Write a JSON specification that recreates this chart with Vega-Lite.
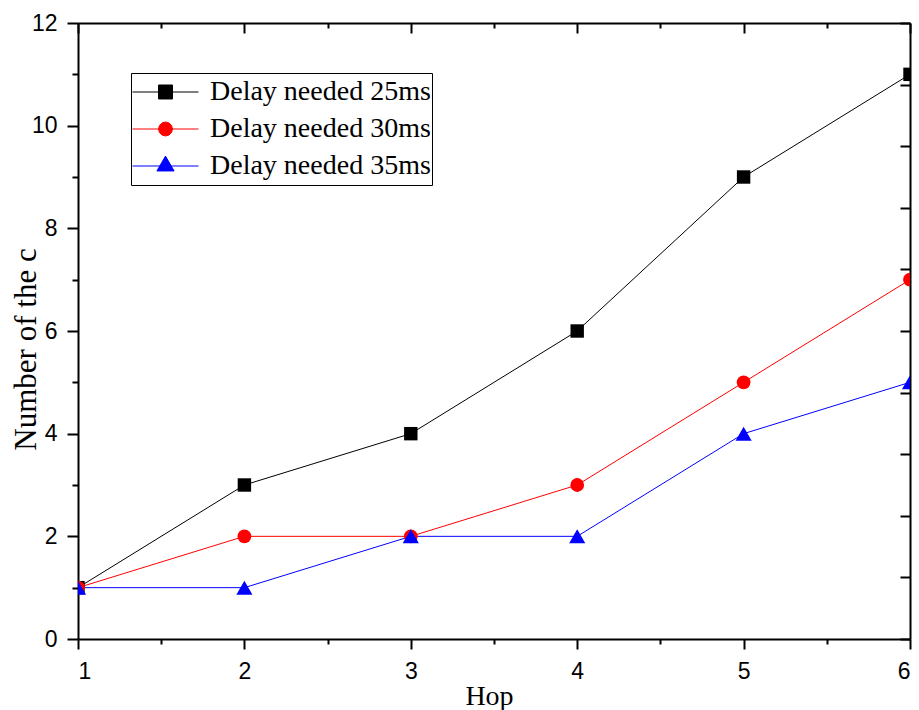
{
  "$schema": "https://vega.github.io/schema/vega-lite/v6.json",
  "width": 832,
  "height": 616,
  "autosize": {"type": "none"},
  "padding": {"left": 78, "top": 23, "right": 9, "bottom": 71},
  "background": "white",
  "config": {
    "view": {"stroke": null},
    "axis": {
      "grid": false,
      "domainColor": "black",
      "tickColor": "black",
      "domainWidth": 2,
      "tickWidth": 2,
      "labelFont": "Liberation Sans",
      "labelFontSize": 23,
      "labelColor": "black",
      "titleFont": "Liberation Serif",
      "titleFontSize": 28,
      "titleFontWeight": "normal",
      "titleColor": "black",
      "zindex": 1
    }
  },
  "data": {
    "values": [
      {"hop": 1, "value": 1, "series": "Delay needed 25ms"},
      {"hop": 2, "value": 3, "series": "Delay needed 25ms"},
      {"hop": 3, "value": 4, "series": "Delay needed 25ms"},
      {"hop": 4, "value": 6, "series": "Delay needed 25ms"},
      {"hop": 5, "value": 9, "series": "Delay needed 25ms"},
      {"hop": 6, "value": 11, "series": "Delay needed 25ms"},
      {"hop": 1, "value": 1, "series": "Delay needed 30ms"},
      {"hop": 2, "value": 2, "series": "Delay needed 30ms"},
      {"hop": 3, "value": 2, "series": "Delay needed 30ms"},
      {"hop": 4, "value": 3, "series": "Delay needed 30ms"},
      {"hop": 5, "value": 5, "series": "Delay needed 30ms"},
      {"hop": 6, "value": 7, "series": "Delay needed 30ms"},
      {"hop": 1, "value": 1, "series": "Delay needed 35ms"},
      {"hop": 2, "value": 1, "series": "Delay needed 35ms"},
      {"hop": 3, "value": 2, "series": "Delay needed 35ms"},
      {"hop": 4, "value": 2, "series": "Delay needed 35ms"},
      {"hop": 5, "value": 4, "series": "Delay needed 35ms"},
      {"hop": 6, "value": 5, "series": "Delay needed 35ms"}
    ]
  },
  "resolve": {"scale": {"y": "independent"}, "axis": {"x": "independent", "y": "independent"}},
  "layer": [
    {
      "mark": {"type": "line", "strokeWidth": 1, "clip": true},
      "encoding": {
        "x": {
          "field": "hop", "type": "quantitative",
          "scale": {"domain": [1, 6], "nice": false, "zero": false},
          "axis": {"orient": "bottom", "values": [1, 2, 3, 4, 5, 6], "tickSize": 10, "labelPadding": 11, "format": "d", "labelFontSize": 23,
                   "title": "Hop", "titleX": 411, "titleY": 65, "titleBaseline": "alphabetic", "titleAlign": "center"}
        },
        "y": {
          "field": "value", "type": "quantitative",
          "scale": {"domain": [0, 12], "nice": false, "zero": false},
          "axis": {"orient": "left", "values": [0, 2, 4, 6, 8, 10, 12], "tickSize": 11, "labelPadding": 10, "labelFontSize": 23,
                   "title": "Number of the c", "titleFontSize": 31, "titleX": -43, "titleY": 326, "titleAngle": -90, "titleBaseline": "alphabetic", "titleAlign": "center"}
        },
        "color": {
          "field": "series", "type": "nominal",
          "scale": {"domain": ["Delay needed 25ms", "Delay needed 30ms", "Delay needed 35ms"], "range": ["black", "red", "blue"]},
          "legend": {
            "title": null,
            "orient": "none",
            "legendX": 53,
            "legendY": 50,
            "strokeColor": "black",
            "fillColor": "white",
            "padding": 1,
            "labelFont": "Liberation Serif",
            "labelFontSize": 28,
            "labelColor": "black",
            "labelOffset": 11,
            "labelLimit": 400,
            "symbolSize": 4356,
            "clipHeight": 36,
            "rowPadding": 1,
            "symbolStrokeWidth": 1,
            "encode": {
              "symbols": {
                "update": {
                  "shape": {"signal": "datum.value === 'Delay needed 25ms' ? 'M-1,0H1M-0.212,-0.212H0.212V0.212H-0.212Z' : datum.value === 'Delay needed 30ms' ? 'M-1,0H1M0.212,0L0.184,0.106L0.106,0.184L0,0.212L-0.106,0.184L-0.184,0.106L-0.212,0L-0.184,-0.106L-0.106,-0.184L0,-0.212L0.106,-0.184L0.184,-0.106Z' : 'M-1,0H1M0,-0.3L0.26,0.15L-0.26,0.15Z'"},
                  "fill": {"signal": "datum.value === 'Delay needed 25ms' ? 'black' : datum.value === 'Delay needed 30ms' ? 'red' : 'blue'"},
                  "stroke": {"signal": "datum.value === 'Delay needed 25ms' ? 'black' : datum.value === 'Delay needed 30ms' ? 'red' : 'blue'"},
                  "size": {"value": 4356},
                  "strokeWidth": {"value": 1},
                  "opacity": {"value": 1},
                  "fillOpacity": {"value": 1}
                }
              }
            }
          }
        }
      }
    },
    {
      "transform": [{"filter": "datum.series === 'Delay needed 25ms'"}],
      "mark": {"type": "point", "filled": true, "opacity": 1, "clip": true, "shape": "square", "size": 180, "color": "black"},
      "encoding": {
        "x": {"field": "hop", "type": "quantitative", "axis": null},
        "y": {"field": "value", "type": "quantitative", "scale": {"domain": [0, 12], "nice": false, "zero": false}, "axis": null}
      }
    },
    {
      "transform": [{"filter": "datum.series === 'Delay needed 30ms'"}],
      "mark": {"type": "point", "filled": true, "opacity": 1, "clip": true, "shape": "circle", "size": 190, "color": "red"},
      "encoding": {
        "x": {"field": "hop", "type": "quantitative", "axis": null},
        "y": {"field": "value", "type": "quantitative", "scale": {"domain": [0, 12], "nice": false, "zero": false}, "axis": null}
      }
    },
    {
      "transform": [{"filter": "datum.series === 'Delay needed 35ms'"}],
      "mark": {"type": "point", "filled": true, "opacity": 1, "clip": true, "shape": "triangle-up", "size": 260, "color": "blue"},
      "encoding": {
        "x": {"field": "hop", "type": "quantitative", "axis": null},
        "y": {"field": "value", "type": "quantitative", "scale": {"domain": [0, 12], "nice": false, "zero": false}, "axis": null}
      }
    },
    {
      "mark": {"type": "point", "opacity": 0},
      "encoding": {
        "x": {"field": "hop", "type": "quantitative",
              "axis": {"orient": "bottom", "values": [1.5, 2.5, 3.5, 4.5, 5.5], "tickSize": 5, "labels": false, "domain": false, "title": null}},
        "y": {"field": "value", "type": "quantitative", "scale": {"domain": [0, 12], "nice": false, "zero": false},
              "axis": {"orient": "left", "values": [1, 3, 5, 7, 9, 11], "tickSize": 6, "labels": false, "domain": false, "title": null}}
      }
    },
    {
      "mark": {"type": "point", "opacity": 0},
      "encoding": {
        "x": {"field": "hop", "type": "quantitative",
              "axis": {"orient": "top", "values": [1, 2, 3, 4, 5, 6], "tickSize": -10, "labels": false, "title": null}},
        "y": {"field": "value", "type": "quantitative", "scale": {"domain": [0, 10], "nice": false, "zero": false},
              "axis": {"orient": "right", "values": [0, 1, 2, 3, 4, 5, 6, 7, 8, 9, 10], "tickSize": -10, "labels": false, "title": null}}
      }
    },
    {
      "mark": {"type": "point", "opacity": 0},
      "encoding": {
        "x": {"field": "hop", "type": "quantitative",
              "axis": {"orient": "top", "values": [1.5, 2.5, 3.5, 4.5, 5.5], "tickSize": -5, "labels": false, "domain": false, "title": null}},
        "y": {"field": "value", "type": "quantitative", "scale": {"domain": [0, 12], "nice": false, "zero": false}, "axis": null}
      }
    }
  ]
}
